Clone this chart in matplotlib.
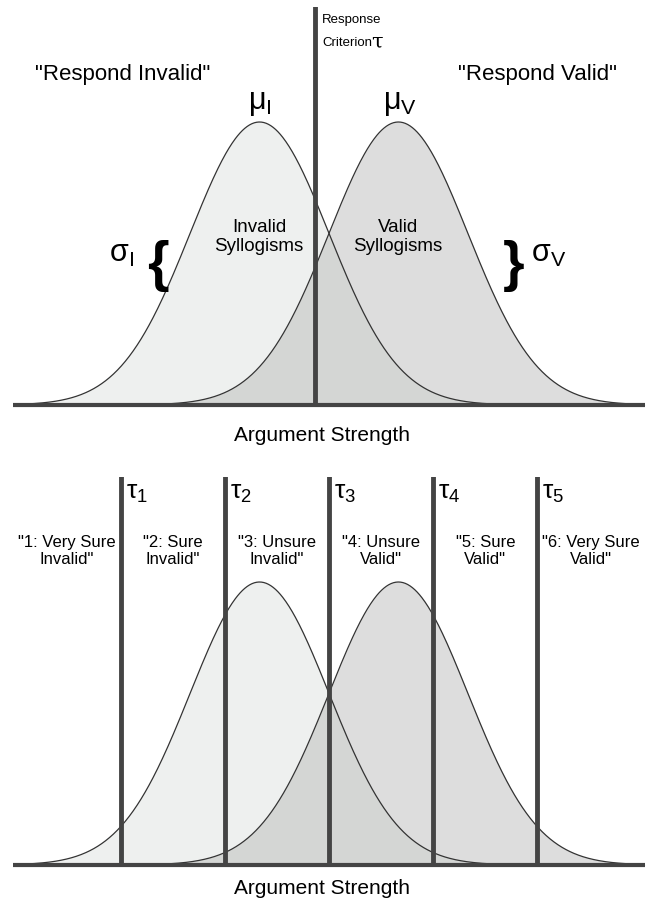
import numpy as np
import matplotlib
matplotlib.use("Agg")
import matplotlib.pyplot as plt

plt.rcParams['font.family'] = ['Liberation Sans', 'DejaVu Sans']
plt.rcParams['mathtext.fontset'] = 'custom'
plt.rcParams['mathtext.rm'] = 'Liberation Sans'
plt.rcParams['mathtext.it'] = 'Liberation Sans:italic'

# ---- data (argument-strength units) ----
mu_invalid = -1.0
mu_valid = 1.0
sigma_invalid = 1.0
sigma_valid = 1.0
criterion_top = -0.2
criteria_bottom = [-3.0, -1.5, 0.0, 1.5, 3.0]
criteria_labels = ["\u03c4$_1$", "\u03c4$_2$", "\u03c4$_3$", "\u03c4$_4$", "\u03c4$_5$"]
response_labels = ['"1: Very Sure\nInvalid"', '"2: Sure\nInvalid"', '"3: Unsure\nInvalid"',
                   '"4: Unsure\nValid"', '"5: Sure\nValid"', '"6: Very Sure\nValid"']
x_range = (-4.55, 4.55)

W, H = 651, 904
fig = plt.figure(figsize=(W / 100, H / 100), dpi=100)

PX_PER_UNIT = 69.5
X0_PX = 329.0
PEAK = 1 / np.sqrt(2 * np.pi)
PEAK_PX = 283.0


def pdf(x, m, s):
    return np.exp(-0.5 * ((x - m) / s) ** 2) / (s * np.sqrt(2 * np.pi))


def make_axes(top_px, base_px):
    left = 13 / W
    width = (645 - 13) / W
    bottom = (H - base_px) / H
    height = (base_px - top_px) / H
    ax = fig.add_axes([left, bottom, width, height])
    ax.set_xlim(*x_range)
    ymax = PEAK * (base_px - top_px) / PEAK_PX
    ax.set_ylim(0, ymax)
    ax.axis('off')
    return ax


def xd(px):
    return (px - X0_PX) / PX_PER_UNIT


def yd(py, base_px):
    return (base_px - py) / PEAK_PX * PEAK


c_inv = '#eef0ef'
c_val = '#dddddd'
c_ovl = '#d4d6d4'
c_line = '#444444'
c_curve = '#333333'


def draw_curves(ax):
    x = np.linspace(x_range[0], x_range[1], 800)
    yi = pdf(x, mu_invalid, sigma_invalid)
    yv = pdf(x, mu_valid, sigma_valid)
    ax.fill_between(x, 0, yi, color=c_inv, lw=0, zorder=1)
    ax.fill_between(x, 0, yv, color=c_val, lw=0, zorder=1)
    ax.fill_between(x, 0, np.minimum(yi, yv), color=c_ovl, lw=0, zorder=2)
    ax.plot(x, yi, color=c_curve, lw=0.9, zorder=3)
    ax.plot(x, yv, color=c_curve, lw=0.9, zorder=3)
    ax.plot(x_range, [0, 0], color=c_line, lw=3, zorder=4, solid_capstyle='butt', clip_on=False)


# ---------------- top panel ----------------
TB = 406
ax1 = make_axes(8, TB)
draw_curves(ax1)
ax1.axvline(criterion_top, color=c_line, lw=3.5, zorder=5)

ax1.text(xd(322), yd(20, TB), "Response", fontsize=9.5, ha='left', va='center')
ax1.text(xd(322), yd(43, TB), "Criterion", fontsize=9.5, ha='left', va='center')
ax1.text(xd(371), yd(42, TB), "\u03c4", fontsize=15, ha='left', va='center',
         family=['DejaVu Serif'])
ax1.text(xd(123), yd(75, TB), '"Respond Invalid"', fontsize=16, ha='center', va='center')
ax1.text(xd(538), yd(75, TB), '"Respond Valid"', fontsize=16, ha='center', va='center')
ax1.text(xd(260), yd(103, TB), r'$\mathregular{\mu_I}$', fontsize=22, ha='center', va='center')
ax1.text(xd(400), yd(103, TB), r'$\mathregular{\mu_V}$', fontsize=22, ha='center', va='center')
ax1.text(xd(259), yd(237, TB), "Invalid\nSyllogisms", fontsize=13.5, ha='center', va='center',
         linespacing=1.2, zorder=6)
ax1.text(xd(398), yd(237, TB), "Valid\nSyllogisms", fontsize=13.5, ha='center', va='center',
         linespacing=1.2, zorder=6)
ax1.text(xd(121), yd(254, TB), r'$\mathregular{\sigma_I}$', fontsize=22, ha='center', va='center')
ax1.text(xd(549), yd(254, TB), r'$\mathregular{\sigma_V}$', fontsize=22, ha='center', va='center')
ax1.text(xd(158), yd(266, TB), "{", fontsize=40, ha='center', va='center', fontweight='bold')
ax1.text(xd(514), yd(266, TB), "}", fontsize=40, ha='center', va='center', fontweight='bold')
ax1.text(xd(322), yd(436, TB), "Argument Strength", fontsize=15, ha='center', va='center')

# ---------------- bottom panel ----------------
BB = 866
ax2 = make_axes(478, BB)
draw_curves(ax2)
for c, lab in zip(criteria_bottom, criteria_labels):
    ax2.axvline(c, color=c_line, lw=3.5, zorder=5)
    ax2.text(c + xd(334) - xd(329), yd(493, BB), lab, fontsize=19, ha='left', va='center')

edges = [x_range[0]] + criteria_bottom + [x_range[1]]
for i, lab in enumerate(response_labels):
    mid = 0.5 * (edges[i] + edges[i + 1])
    ax2.text(mid, yd(551, BB), lab, fontsize=12, ha='center', va='center', linespacing=1.2)

ax2.text(xd(322), yd(889, BB), "Argument Strength", fontsize=15, ha='center', va='center')

fig.savefig("out.png", dpi=100)
